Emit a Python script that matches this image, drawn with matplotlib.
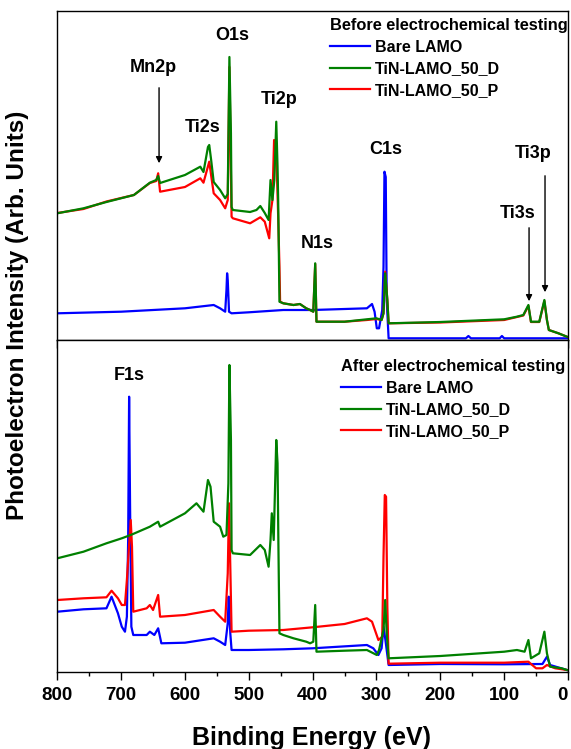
import numpy as np
import matplotlib
matplotlib.use("Agg")
import matplotlib.pyplot as plt
from matplotlib.ticker import MultipleLocator, NullLocator

plt.rcParams['font.family'] = ['Liberation Sans', 'DejaVu Sans']
plt.rcParams['font.weight'] = 'bold'

# ---------------- data (binding energy eV, intensity arb. units) ----------------
series_names = ["Bare LAMO", "TiN-LAMO_50_D", "TiN-LAMO_50_P"]
series_colors = ["#0000ff", "#008000", "#ff0000"]

# Before electrochemical testing
before_bare_E = [800, 700, 600, 555, 545, 537, 535, 534, 533, 531, 527, 500, 446, 400, 315, 307, 303,
                 299.5, 296, 291, 289, 287.5, 285.5, 284, 281, 160, 156, 152, 107, 103.5, 100, 0]
before_bare_I = [26.7, 28.3, 31.7, 35, 31.7, 28.3, 50, 66.7, 60, 28.3, 26.7, 27.7, 30, 30, 31.7, 36, 28.3,
                 11.7, 11.7, 30, 73, 168.3, 163, 40, 1.7, 1.7, 4, 1.7, 1.7, 4, 1.7, 1.7]

before_D_E = [800, 759, 723, 680, 655, 645, 642, 639, 600, 576, 571, 564, 562, 559, 555, 545, 537, 533,
              530.4, 528, 527, 525, 498, 488, 482, 475, 469, 466, 463, 460, 457, 455, 454, 452, 446,
              430, 420, 410, 404, 399, 396, 394, 350, 315, 300, 292, 289, 286.4, 283, 281, 200, 100,
              80, 70, 62, 58, 45, 37, 33, 30, 15, 1.7]
before_D_I = [126.7, 131.7, 138, 145, 157.3, 160, 164, 157, 165, 173.3, 168, 193, 195, 180, 158, 150, 141.7, 146,
              283, 206.7, 133, 130, 128, 130, 134, 127, 120, 160, 140, 160, 218.3, 173.3, 140, 38.3, 36.7,
              35, 36, 31.7, 30, 28.3, 76.7, 18.3, 18.3, 20.7, 21.7, 20, 26.7, 66.7, 40, 16.7, 18, 20.7,
              23.3, 25, 35, 18.3, 18.3, 40, 20, 10, 6.7, 3.3]

before_P_E = [800, 759, 723, 680, 655, 645, 642, 639, 600, 576, 571, 562, 558, 555, 545, 537, 533,
              530.4, 527, 525, 498, 482, 475, 468, 466, 463, 460.4, 457, 454, 452, 451, 446,
              430, 420, 410, 404, 399, 396, 394, 350, 315, 300, 292, 289, 286.4, 283, 281, 200, 100,
              80, 70, 62, 58, 45, 37, 33, 30, 15, 1.7]
before_P_I = [127, 131, 138.5, 145, 157, 159, 166.7, 148.3, 153, 161.7, 157.3, 178.3, 160, 146.7, 140, 131.7, 140,
              273, 123.3, 121.7, 116.7, 122.7, 118.3, 101.7, 126.7, 140, 200, 190, 123.3, 73, 38.3, 36.7,
              35, 36, 31.7, 30, 28.3, 76, 18.3, 18.3, 20, 21, 20, 26.7, 68.3, 40, 16.7, 17.5, 20,
              23, 24.5, 34, 18, 18, 39, 20, 10, 6.7, 3.3]

# After electrochemical testing
after_bare_E = [800, 759, 723, 715, 705, 699, 694, 691, 689, 687.5, 686, 684, 681, 660, 655, 648, 642, 637,
                600, 555, 545, 537, 533, 531.5, 529, 527, 500, 446, 400, 315, 305, 297, 292, 289, 286,
                281, 200, 100, 40, 33, 28, 1.7]
after_bare_I = [60.3, 62.7, 63.7, 75.3, 58.7, 45.3, 40.3, 55.3, 132, 275.3, 165.3, 45.3, 37, 37, 40.3, 37, 43.7, 28.7,
                29.3, 33.7, 30.3, 27, 48.7, 75.3, 38.7, 22, 22, 22.7, 23.7, 27, 23.7, 17, 23.7, 45.3, 32,
                7, 8, 7.7, 8, 15.3, 7, 2]

after_D_E = [800, 759, 723, 699, 685, 655, 642, 639, 600, 582, 571, 564, 560, 555, 545, 540, 535, 532,
             530.4, 528, 527, 525, 498, 482, 475, 469, 466, 464, 461, 457, 455, 453.6, 452, 446, 430,
             410, 404, 399, 396, 394, 350, 315, 299.5, 296, 289, 286.4, 284, 281, 200, 100, 80, 68,
             62, 58, 45, 37, 33, 28, 10, 1.7]
after_D_I = [113.7, 120.3, 128.7, 133.7, 137, 145.3, 150.3, 145.3, 158.7, 168.7, 160.3, 192, 185.3, 150.3, 145.3, 135.3, 137, 188.7,
             307, 232, 122, 118.7, 117, 127, 122, 105.3, 132, 158.7, 132, 232, 208.7, 125.3, 38.7, 37, 33.7,
             30.3, 28.7, 30.3, 67, 20.3, 21.3, 22, 17, 22, 42, 72, 38.7, 13.7, 16, 20.3, 22, 20.3,
             32, 13.7, 18.7, 40.3, 18.7, 5.3, 3.7, 2]

after_P_E = [800, 759, 723, 715, 705, 699, 694, 691, 687, 685, 683, 681, 660, 655, 650, 642, 639, 600,
             555, 545, 537, 533, 531, 529, 527, 500, 446, 400, 350, 315, 307, 297, 291, 289, 287,
             285, 283, 281, 200, 100, 62, 50, 40, 33, 20, 1.7]
after_P_I = [72, 73.7, 74.7, 81.3, 73.7, 67, 67, 92, 132, 152, 125.3, 60.3, 63.7, 67, 62, 77, 55.3, 57,
             62, 55.3, 50.3, 98.7, 168.7, 105.3, 40.3, 41.3, 42, 44.7, 48, 53.7, 50.3, 32, 35.3, 115.3, 177,
             175.3, 65.3, 8.3, 9.3, 9.3, 10.3, 3.7, 3.7, 7, 3.7, 2]

before_series = [(before_bare_E, before_bare_I), (before_D_E, before_D_I), (before_P_E, before_P_I)]
after_series = [(after_bare_E, after_bare_I), (after_D_E, after_D_I), (after_P_E, after_P_I)]
draw_order = [0, 2, 1]

# peak labels: (text, E, I)
before_labels = [("O1s", 526, 305), ("Mn2p", 650, 272), ("Ti2s", 572, 212), ("Ti2p", 452, 240),
                 ("N1s", 393, 97), ("C1s", 286, 191), ("Ti3s", 79, 127), ("Ti3p", 54, 186)]
# arrows: (E, I_start, I_end)
before_arrows = [(640.6, 255, 174), (61, 115, 36), (36, 167, 45)]
after_labels = [("F1s", 687.5, 296)]

# ---------------- figure ----------------
W, H = 571, 749
fig = plt.figure(figsize=(W / 100, H / 100), dpi=100)
ax1 = fig.add_axes([57.3 / W, 1 - 340 / H, (568 - 57.3) / W, 329 / H])
ax2 = fig.add_axes([57.3 / W, 1 - 672 / H, (568 - 57.3) / W, 332 / H])

def style(ax, ymax, labels):
    ax.set_xlim(800, 0)
    ax.set_ylim(0, ymax)
    ax.yaxis.set_major_locator(NullLocator())
    ax.xaxis.set_major_locator(MultipleLocator(100))
    ax.xaxis.set_minor_locator(MultipleLocator(50))
    ax.tick_params(axis='x', which='major', direction='out', length=6, width=1,
                   labelsize=13.5, labelbottom=labels, pad=5)
    ax.tick_params(axis='x', which='minor', direction='out', length=3, width=1)
    for s in ax.spines.values():
        s.set_linewidth(1)

style(ax1, 329, False)
style(ax2, 332, True)

for ax, data in ((ax1, before_series), (ax2, after_series)):
    for i in draw_order:
        E, I = data[i]
        ax.plot(E, I, color=series_colors[i], lw=1.6, label=series_names[i])

def add_legend(ax, title, x, y):
    handles, labs = ax.get_legend_handles_labels()
    order = [labs.index(n) for n in series_names]
    leg = ax.legend([handles[k] for k in order], [labs[k] for k in order], title=title,
                    loc='upper left', bbox_to_anchor=(x, y), frameon=False,
                    prop={'size': 11.5, 'weight': 'bold'}, title_fontproperties={'size': 11.8},
                    handlelength=2.5, handletextpad=0.3, labelspacing=0.42, borderpad=0,
                    borderaxespad=0, alignment='left')
    return leg

add_legend(ax1, "Before electrochemical testing", 0.534, 0.979)
add_legend(ax2, "After electrochemical testing", 0.556, 0.943)

for t, e, v in before_labels:
    ax1.text(e, v, t, ha='center', va='center', fontsize=13, fontweight='bold')
for e, a, b in before_arrows:
    ax1.annotate("", xy=(e, b), xytext=(e, a),
                 arrowprops=dict(arrowstyle='-|>', color='black', lw=1, mutation_scale=9))
for t, e, v in after_labels:
    ax2.text(e, v, t, ha='center', va='center', fontsize=13, fontweight='bold')

fig.canvas.draw()
for tick in ax2.xaxis.get_major_ticks():
    if abs(tick.get_loc()) < 1e-6:
        tick.label1.set_horizontalalignment('right')
        tick.label1.set_x(tick.label1.get_position()[0])

fig.text(311 / W, 1 - 738 / H, "Binding Energy (eV)", ha='center', va='center',
         fontsize=18, fontweight='bold')
fig.text(18 / W, 1 - 315 / H, "Photoelectron Intensity (Arb. Units)", ha='center', va='center',
         rotation=90, fontsize=17.5, fontweight='bold')

fig.savefig("out.png", dpi=100)
